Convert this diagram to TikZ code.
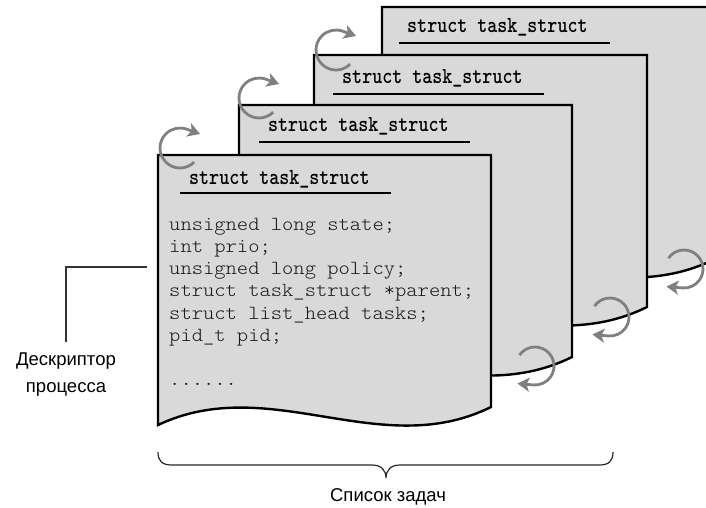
\documentclass[tikz,border=0pt]{standalone}
\usepackage{fontspec}
\setmainfont{Liberation Sans}
\newfontfamily\codefont[FakeStretch=1.076]{lmmonolt10-regular.otf}
\newfontfamily\hdrfont[FakeStretch=0.83]{lmmonolt10-bold.otf}
\usetikzlibrary{arrows.meta}

\definecolor{pagefill}{HTML}{D9D9D9}
\definecolor{loopgray}{HTML}{808080}

\tikzset{
  page/.style={fill=pagefill, draw=black, line width=2.4pt, line join=miter},
  hdr/.style={font=\hdrfont\fontsize{23pt}{23pt}\selectfont, anchor=base west, inner sep=0pt},
  hdrline/.style={line width=2.3pt},
  code/.style={font=\codefont\fontsize{20pt}{22pt}\selectfont, anchor=base west, inner sep=0pt, text=black!90},
  loop/.style={draw=loopgray, line width=2.8pt, -{Stealth[length=12pt,width=14pt,inset=3pt]}},
  lbl/.style={font=\fontsize{18.5pt}{24pt}\selectfont, inner sep=0pt, anchor=base},
  lead/.style={draw=black!80, line width=1.1pt},
  bracepath/.style={draw=black!85, line width=1.2pt},
}

\begin{document}
\begin{tikzpicture}[x=1pt,y=-1pt]
\useasboundingbox (0,0) rectangle (706,507);
\clip (0,0) rectangle (706,507);

% four task_struct sheets, back to front
\foreach \L/\T/\hx/\hy/\ux/\uy/\n in
  {382/7/407/32/399/43/4, 314/55/342/83/333/94/3,
   239/105/268/131/259/142/2, 158/155/189/184/180/193/1}{
  \draw[page] (\L,\T) -- (\L+333,\T) -- (\L+333,\T+252)
    .. controls (\L+222,\T+307) and (\L+112,\T+217) .. (\L,\T+270) -- cycle;
  \node[hdr] (hdr\n) at (\hx,\hy) {struct task\_struct};
  \draw[hdrline] (\ux,\uy) -- (\ux+211,\uy);
}

% fields of the front sheet
\node[code] (f1) at (169,230)   {unsigned long state;};
\node[code] (f2) at (169,252.3) {int prio;};
\node[code] (f3) at (169,274.6) {unsigned long policy;};
\node[code] (f4) at (169,296.9) {struct task\_struct *parent;};
\node[code] (f5) at (169,319.2) {struct list\_head tasks;};
\node[code] (f6) at (169,341.5) {pid\_t pid;};
\node[code] (f7) at (169,385)   {......};

% list links at the top-left corners
\foreach \cx/\cy in {180/148, 259/98, 336/50}{
  \draw[loop] (\cx,\cy) ++(45:20) arc[start angle=45, end angle=290, radius=20] -- ++(20:14);
}
% list links on the bottom edges
\foreach \cx/\cy in {535/366, 610/317, 684/269}{
  \draw[loop] (\cx,\cy) ++(-145:19) arc[start angle=-145, end angle=95, radius=19] -- ++(185:16);
}

% process descriptor label
\node[lbl] (desc1) at (66,365) {Дескриптор};
\node[lbl] (desc2) at (66,392) {процесса};
\coordinate (leadTip) at (147,267);
\draw[lead] ([yshift=10pt]desc1.north) |- (leadTip);

% brace under the list
\coordinate (braceL) at (158,452);
\coordinate (braceR) at (613,452);
\coordinate (braceTip) at (386,478);
\draw[bracepath] (braceL) .. controls (158,461) and (162,465) .. (172,465) -- (372,465)
  .. controls (381,465) and (386,470) .. (braceTip)
  .. controls (386,470) and (391,465) .. (400,465) -- (599,465)
  .. controls (609,465) and (613,461) .. (braceR);
\node[lbl] (tasklist) at (388,501.5) {Список задач};
\end{tikzpicture}
\end{document}
